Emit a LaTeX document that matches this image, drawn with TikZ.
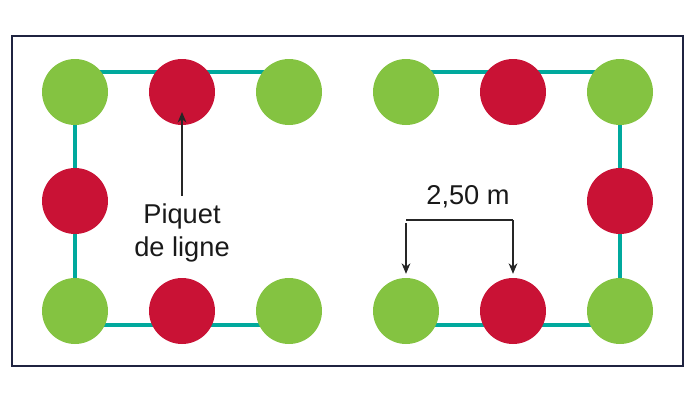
\documentclass[tikz,border=0pt]{standalone}
\usepackage{fontspec}
\setmainfont{Liberation Sans}
\usetikzlibrary{arrows.meta,positioning}
\definecolor{piqvert}{HTML}{84C341}
\definecolor{piqrouge}{HTML}{C91235}
\definecolor{cordeau}{HTML}{00A99D}
\definecolor{cadre}{HTML}{1F2340}
\tikzset{every picture/.style={line width=0.75pt}}
\tikzset{
  piquet/.style={circle,fill=#1,minimum size=1.32cm,inner sep=0pt},
  ligne/.style={cordeau,line width=2pt},
  fleche/.style={-{Stealth[length=6pt,width=5pt]},black!85,line width=0.8pt},
  legende/.style={font=\fontsize{15.5}{19}\selectfont,text=black!90,align=center}
}

\begin{document}
\begin{tikzpicture}[x=0.02cm,y=-0.02cm]
    \useasboundingbox (0,0) rectangle (700,400);

    % cadre
    \draw[cadre,line width=1.2pt] (12,36) rectangle (683,366);

    % cordeaux (sous les piquets)
    \draw[ligne] (289,72) -- (75,72) -- (75,325) -- (289,325);
    \draw[ligne] (406,72) -- (620,72) -- (620,325) -- (406,325);

    % piquets, groupe de gauche
    \foreach \x/\y/\c/\n in {75/92/piqvert/ga, 182/92/piqrouge/gb, 289/92/piqvert/gc,
                             75/201/piqrouge/gd,
                             75/311/piqvert/ge, 182/311/piqrouge/gf, 289/311/piqvert/gg}
        \node[piquet=\c] (\n) at (\x,\y) {};

    % piquets, groupe de droite
    \foreach \x/\y/\c/\n in {406/92/piqvert/da, 513/92/piqrouge/db, 620/92/piqvert/dc,
                             620/201/piqrouge/dd,
                             406/311/piqvert/de, 513/311/piqrouge/df, 620/311/piqvert/dg}
        \node[piquet=\c] (\n) at (\x,\y) {};

    % piquet de ligne
    \node[legende,inner sep=4pt] (txt) at (182,233) {Piquet\\de ligne};
    \coordinate (pointe) at (182,112);
    \draw[fleche] (txt.north) -- (pointe);

    % cote 2,50 m
    \node[legende] (cote) at (468,197) {2,50 m};
    \draw[fleche] (de.north) ++(0,-54) -- ([yshift=2pt]de.north);
    \draw[black!85,line width=0.8pt] ([yshift=2pt]de.north) ++(0,-54) coordinate (ca) -- (ca -| df.north);
    \draw[fleche] (ca -| df.north) -- ([yshift=2pt]df.north);
\end{tikzpicture}
\end{document}
